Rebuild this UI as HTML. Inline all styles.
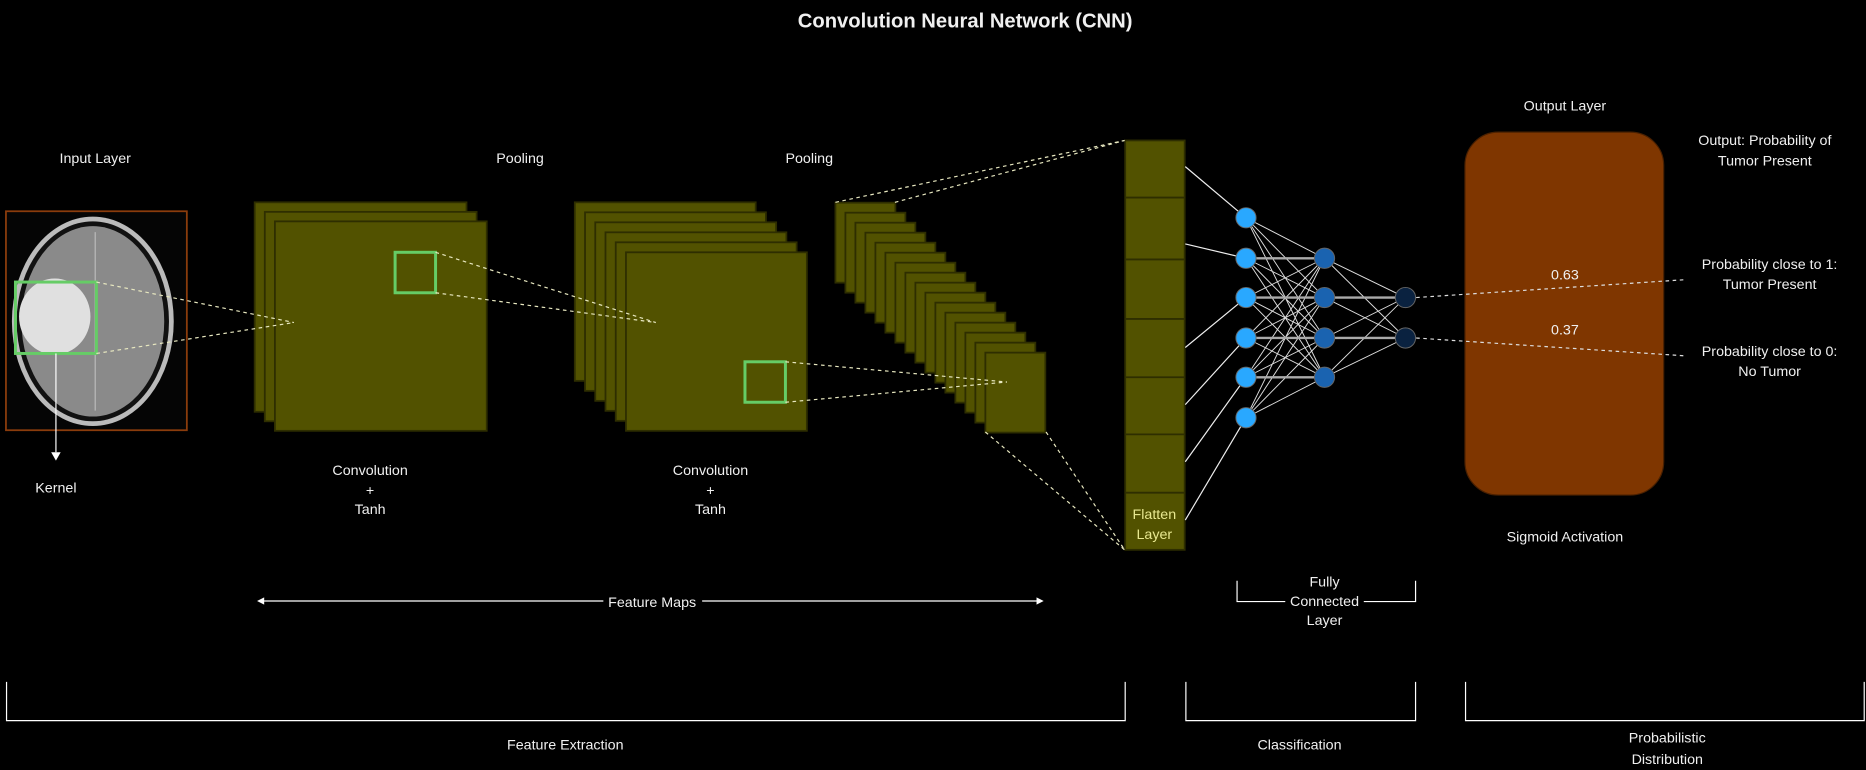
<!DOCTYPE html>
<html><head><meta charset="utf-8"><style>
html,body{margin:0;padding:0;background:#000;}
svg{display:block}
text{font-family:"Liberation Sans",Arial,sans-serif;fill:#f0f0f0;font-size:12px;text-anchor:middle}
</style></head><body>
<svg width="1866" height="770" viewBox="0 0 1568 647" xmlns="http://www.w3.org/2000/svg">
<rect width="1568" height="647" fill="#000"/>
<text x="811" y="23" style="font-size:17px;font-weight:bold">Convolution Neural Network (CNN)</text>

<!-- input -->
<text x="80" y="137">Input Layer</text>
<rect x="5" y="177.5" width="152" height="184" fill="#050505" stroke="#8a3c0c" stroke-width="1.5"/>
<ellipse cx="78" cy="270" rx="68" ry="88" fill="#bbb"/>
<ellipse cx="78" cy="270" rx="64" ry="84" fill="#111"/>
<ellipse cx="78" cy="270" rx="60" ry="80" fill="#8a8a8a"/>
<ellipse cx="46" cy="266" rx="30" ry="32" fill="#e0e0e0"/>
<line x1="80" y1="195" x2="80" y2="345" stroke="#bbb" stroke-width="1"/>
<rect x="13" y="237" width="68" height="60" fill="none" stroke="#66cc66" stroke-width="2.5"/>
<line x1="47" y1="297" x2="47" y2="380" stroke="#fff"/>
<path d="M43,380 L47,387 L51,380 Z" fill="#fff"/>
<text x="47" y="414">Kernel</text>

<!-- conv1 -->
<g fill="#525200" stroke="#2e2e00" stroke-width="1.5">
<rect x="214" y="170" width="178" height="176"/>
<rect x="222.5" y="178" width="178" height="176"/>
<rect x="231" y="186" width="178" height="176"/>
</g>
<rect x="332" y="212" width="34" height="34" fill="none" stroke="#66cc66" stroke-width="2.5"/>
<text x="437" y="137">Pooling</text>
<text x="311" y="399">Convolution</text><text x="311" y="416">+</text><text x="311" y="432">Tanh</text>

<!-- conv2 -->
<g fill="#525200" stroke="#2e2e00" stroke-width="1.5">
<rect x="483" y="170" width="152" height="150"/>
<rect x="491.6" y="178.4" width="152" height="150"/>
<rect x="500.2" y="186.8" width="152" height="150"/>
<rect x="508.8" y="195.2" width="152" height="150"/>
<rect x="517.4" y="203.6" width="152" height="150"/>
<rect x="526" y="212" width="152" height="150"/>
</g>
<rect x="626" y="304" width="34" height="34" fill="none" stroke="#66cc66" stroke-width="2.5"/>
<text x="680" y="137">Pooling</text>
<text x="597" y="399">Convolution</text><text x="597" y="416">+</text><text x="597" y="432">Tanh</text>

<!-- pooling stack -->
<g fill="#525200" stroke="#2e2e00" stroke-width="1.5">
<rect x="702" y="170.3" width="50.4" height="67.2"/>
<rect x="710.4" y="178.7" width="50.4" height="67.2"/>
<rect x="718.8" y="187.1" width="50.4" height="67.2"/>
<rect x="727.2" y="195.5" width="50.4" height="67.2"/>
<rect x="735.6" y="203.9" width="50.4" height="67.2"/>
<rect x="744" y="212.3" width="50.4" height="67.2"/>
<rect x="752.4" y="220.7" width="50.4" height="67.2"/>
<rect x="760.8" y="229.1" width="50.4" height="67.2"/>
<rect x="769.2" y="237.5" width="50.4" height="67.2"/>
<rect x="777.6" y="245.9" width="50.4" height="67.2"/>
<rect x="786" y="254.3" width="50.4" height="67.2"/>
<rect x="794.4" y="262.7" width="50.4" height="67.2"/>
<rect x="802.8" y="271.1" width="50.4" height="67.2"/>
<rect x="811.2" y="279.5" width="50.4" height="67.2"/>
<rect x="819.6" y="287.9" width="50.4" height="67.2"/>
<rect x="828" y="296.3" width="50.4" height="67.2"/>
</g>

<!-- flatten -->
<rect x="945.5" y="118" width="50" height="344" fill="#525200" stroke="#2e2e00" stroke-width="1.5"/>
<g stroke="#2e2e00" stroke-width="1.5">
<line x1="945.5" y1="166" x2="995.5" y2="166"/><line x1="945.5" y1="218" x2="995.5" y2="218"/>
<line x1="945.5" y1="268" x2="995.5" y2="268"/><line x1="945.5" y1="317" x2="995.5" y2="317"/>
<line x1="945.5" y1="365" x2="995.5" y2="365"/><line x1="945.5" y1="414" x2="995.5" y2="414"/>
</g>
<text x="970" y="436" style="fill:#e8e890">Flatten</text><text x="970" y="453" style="fill:#e8e890">Layer</text>

<!-- dashed connectors on top -->
<g stroke-dasharray="3,3" stroke="#e8e8c0" fill="none">
<line x1="81" y1="237" x2="247" y2="271"/><line x1="81" y1="297" x2="247" y2="271"/>
<line x1="366" y1="212" x2="551" y2="271"/><line x1="366" y1="246" x2="551" y2="271"/>
<line x1="660" y1="304" x2="846" y2="321"/><line x1="660" y1="338" x2="846" y2="321"/>
<line x1="702" y1="170" x2="945" y2="118"/><line x1="752" y1="170" x2="945" y2="118"/>
<line x1="828" y1="363" x2="945" y2="462"/><line x1="879" y1="363" x2="945" y2="462"/>
</g>

<!-- NN lines -->
<g stroke="#eee" stroke-width="1">
<line x1="996" y1="140" x2="1047" y2="183"/><line x1="996" y1="205" x2="1047" y2="217"/>
<line x1="996" y1="292" x2="1047" y2="250"/><line x1="996" y1="340" x2="1047" y2="284"/>
<line x1="996" y1="388" x2="1047" y2="317"/><line x1="996" y1="437" x2="1047" y2="351"/>
</g>
<g stroke="#ddd" stroke-width="0.8">
<path d="M1047,183 L1113,217 M1047,183 L1113,250 M1047,183 L1113,284 M1047,183 L1113,317
M1047,217 L1113,250 M1047,217 L1113,284 M1047,217 L1113,317
M1047,250 L1113,217 M1047,250 L1113,284 M1047,250 L1113,317
M1047,284 L1113,217 M1047,284 L1113,250 M1047,284 L1113,317
M1047,317 L1113,217 M1047,317 L1113,250 M1047,317 L1113,284
M1047,351 L1113,217 M1047,351 L1113,250 M1047,351 L1113,284 M1047,351 L1113,317
M1113,217 L1181,284 M1113,217 L1181,250 M1113,250 L1181,284 M1113,284 L1181,250 M1113,317 L1181,250 M1113,317 L1181,284"/>
</g>
<g stroke="#aaa" stroke-width="2">
<path d="M1047,217 L1113,217 M1047,250 L1113,250 M1047,284 L1113,284 M1047,317 L1113,317 M1113,250 L1181,250 M1113,284 L1181,284"/>
</g>
<g stroke="#666" stroke-width="0.8">
<g fill="#29a8ff">
<circle cx="1047" cy="183" r="8.5"/><circle cx="1047" cy="217" r="8.5"/><circle cx="1047" cy="250" r="8.5"/>
<circle cx="1047" cy="284" r="8.5"/><circle cx="1047" cy="317" r="8.5"/><circle cx="1047" cy="351" r="8.5"/>
</g>
<g fill="#1a63b0">
<circle cx="1113" cy="217" r="8.5"/><circle cx="1113" cy="250" r="8.5"/><circle cx="1113" cy="284" r="8.5"/><circle cx="1113" cy="317" r="8.5"/>
</g>
<g fill="#0a2240">
<circle cx="1181" cy="250" r="8.5"/><circle cx="1181" cy="284" r="8.5"/>
</g>
</g>

<!-- output -->
<text x="1315" y="93">Output Layer</text>
<rect x="1231" y="111" width="167" height="305" rx="28" fill="#7f3600" stroke="#4a2000"/>
<g stroke-dasharray="3,3" stroke="#ddd" fill="none">
<line x1="1190" y1="250" x2="1416" y2="235"/><line x1="1190" y1="284" x2="1416" y2="299"/>
</g>
<text x="1315" y="235">0.63</text><text x="1315" y="281">0.37</text>
<text x="1315" y="455">Sigmoid Activation</text>
<text x="1483" y="122">Output: Probability of</text><text x="1483" y="139">Tumor Present</text>
<text x="1487" y="226">Probability close to 1:</text><text x="1487" y="243">Tumor Present</text>
<text x="1487" y="299">Probability close to 0:</text><text x="1487" y="316">No Tumor</text>

<!-- feature maps arrow -->
<line x1="219" y1="505" x2="874" y2="505" stroke="#fff"/>
<path d="M216,505 L222,502 L222,508 Z M877,505 L871,502 L871,508 Z" fill="#fff"/>
<rect x="507" y="498" width="83" height="14" fill="#000"/>
<text x="548" y="510">Feature Maps</text>

<!-- FC bracket -->
<path d="M1039.5,488 V505.5 H1189.5 V488" fill="none" stroke="#fff"/>
<rect x="1080" y="498" width="66" height="14" fill="#000"/>
<text x="1113" y="493">Fully</text><text x="1113" y="509">Connected</text><text x="1113" y="525">Layer</text>

<!-- bottom brackets -->
<g fill="none" stroke="#fff">
<path d="M5.5,573 V605.5 H945.5 V573"/>
<path d="M996.5,573 V605.5 H1189.5 V573"/>
<path d="M1231.5,573 V605.5 H1566.5 V573"/>
</g>
<text x="475" y="630">Feature Extraction</text>
<text x="1092" y="630">Classification</text>
<text x="1401" y="624">Probabilistic</text><text x="1401" y="642">Distribution</text>
</svg>
</body></html>
